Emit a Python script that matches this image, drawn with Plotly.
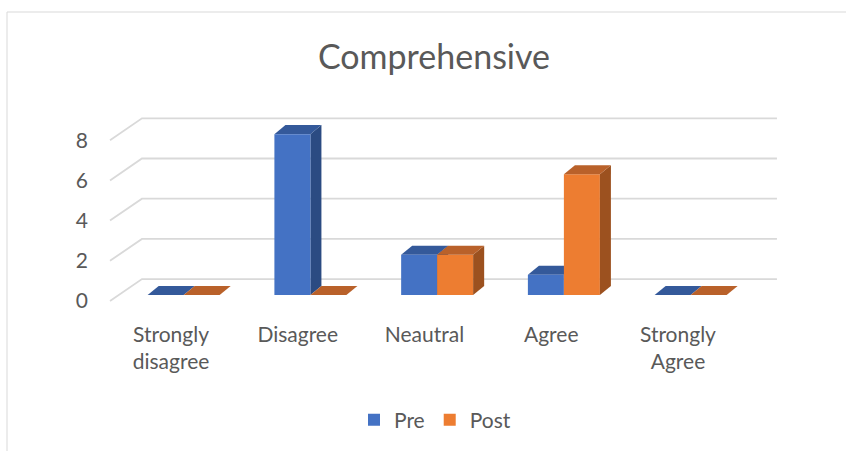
import plotly.graph_objects as go

# ---- data ----
categories = ["Strongly<br>disagree", "Disagree", "Neautral", "Agree", "Strongly<br>Agree"]
pre = [0, 8, 2, 1, 0]
post = [0, 0, 2, 6, 0]
y_ticks = [0, 2, 4, 6, 8]

# ---- 3D-look geometry (data units) ----
BAR_W = 0.284      # width of one bar
SHIFT_X = 0.1      # bars sit slightly right of the label (depth)
LIFT = 0.3         # bar base lifted (depth)
DEPTH_X = 0.087    # bar depth, horizontal
DEPTH_Y = 0.45     # bar depth, vertical
WALL_DX = 0.252    # wall depth
WALL_DY = 1.09
WALL_L = -0.229
WALL_R = 4.781

FONT = "Lato"
GREY = "#595959"

# name, values, side, front, top, side-face colour, shape layer for faces
series = [
    ("Pre", pre, -1, "#4472C4", "#34599A", "#2B4B82", "below"),
    ("Post", post, 1, "#ED7D31", "#B9612A", "#9C511F", "above"),
]

fig = go.Figure()
shapes = []

# back-wall gridlines with diagonal floor ends
for v in y_ticks:
    path = (f"M{WALL_L - WALL_DX},{v} L{WALL_L},{v + WALL_DY} L{WALL_R},{v + WALL_DY}")
    shapes.append(dict(type="path", xref="x", yref="y", path=path,
                       line=dict(color="#d9d9d9", width=1.8), layer="below"))


def poly(pts):
    return "M" + " L".join(f"{x},{y}" for x, y in pts) + " Z"


for name, vals, side, front, top, dark, layer in series:
    xs = [i + SHIFT_X + side * BAR_W / 2 for i in range(len(vals))]
    for xc, v in zip(xs, vals):
        xl, xr = xc - BAR_W / 2, xc + BAR_W / 2
        yt = LIFT + v
        side_pts = [(xr, LIFT), (xr, yt), (xr + DEPTH_X, yt + DEPTH_Y), (xr + DEPTH_X, LIFT + DEPTH_Y)]
        top_pts = [(xl, yt), (xr, yt), (xr + DEPTH_X, yt + DEPTH_Y), (xl + DEPTH_X, yt + DEPTH_Y)]
        shapes.append(dict(type="path", xref="x", yref="y", path=poly(side_pts),
                           fillcolor=dark, line=dict(width=0), layer=layer))
        shapes.append(dict(type="path", xref="x", yref="y", path=poly(top_pts),
                           fillcolor=top, line=dict(width=0), layer=layer))
    fig.add_trace(go.Bar(x=xs, y=vals, base=LIFT, width=BAR_W, name=name,
                         marker=dict(color=front, line=dict(width=0))))

L, R, T, B = 100, 56, 100, 141
W, H = 846, 451
pw, ph = W - L - R, H - T - B


def px_to_paper_x(p):
    return (p - L) / pw


def px_to_paper_y(p):
    return (H - B - p) / ph


shapes.append(dict(type="rect", xref="paper", yref="paper",
                   x0=px_to_paper_x(7), x1=px_to_paper_x(850),
                   y0=px_to_paper_y(460), y1=px_to_paper_y(12),
                   line=dict(color="#d9d9d9", width=1), fillcolor="rgba(0,0,0,0)", layer="below"))

fig.update_layout(
    width=W, height=H,
    margin=dict(l=L, r=R, t=T, b=B),
    paper_bgcolor="white", plot_bgcolor="white",
    font=dict(family=FONT, color=GREY, size=21),
    title=dict(text="Comprehensive", x=434 / W, xanchor="center",
               y=1 - 57 / H, yanchor="middle", yref="container",
               font=dict(size=34, color=GREY, family=FONT)),
    barmode="overlay",
    showlegend=True,
    shapes=shapes,
    legend=dict(orientation="h", x=435 / W, xanchor="center", xref="container",
                y=1 - 420 / H, yanchor="middle", yref="container",
                font=dict(size=21, color=GREY), traceorder="normal"),
    xaxis=dict(range=[-0.56, 4.884], tickvals=list(range(len(categories))), ticktext=categories,
               showgrid=False, zeroline=False, showline=False, ticks="",
               ticklabelstandoff=10, tickfont=dict(size=21, color=GREY)),
    yaxis=dict(range=[-0.448, 10.0], tickvals=y_ticks, showgrid=False, zeroline=False,
               showline=False, ticks="", ticklabelstandoff=11,
               tickfont=dict(size=21, color=GREY)),
)

fig.write_html("out.html")
